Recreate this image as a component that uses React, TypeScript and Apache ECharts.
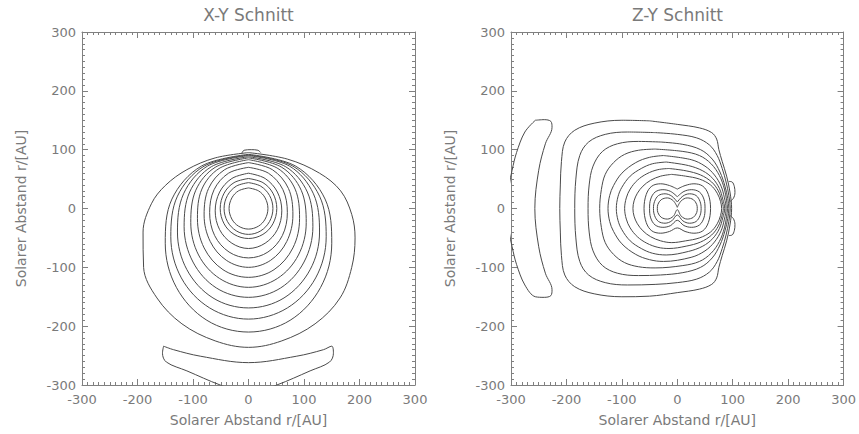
import React, { useEffect, useRef } from "react";
import * as echarts from "echarts";

// ---------- Axis ticks ----------
const axisMin = -300;
const axisMax = 300;
const axisInterval = 100;

// ---------- Titles / names ----------
const leftTitle = "X-Y Schnitt";
const rightTitle = "Z-Y Schnitt";
const axisName = "Solarer Abstand r/[AU]";

// ---------- Left panel (X-Y) contours ----------
const xyCircle1 = [[0,35],[18,30],[30,18],[35,0],[30,-18],[18,-30],[0,-35],[-18,-30],[-30,-18],[-35,0],[-30,18],[-18,30],[0,35]];
const xyCircle2 = [[0,44],[22,38],[38,22],[44,0],[38,-22],[22,-38],[0,-44],[-22,-38],[-38,-22],[-44,0],[-38,22],[-22,38],[0,44]];
const xyCircle3 = [[0,51],[26,44],[44,26],[51,0],[44,-26],[26,-44],[0,-51],[-26,-44],[-44,-26],[-51,0],[-44,26],[-26,44],[0,51]];
const xyRing1 = [[0,60],[30,51],[52,28],[60,-4],[52,-36],[30,-59],[0,-68],[-30,-59],[-52,-36],[-60,-4],[-52,28],[-30,51],[0,60]];
const xyRing2 = [[0,70],[36,60],[62,32],[70,-7],[61,-46],[35,-74],[0,-84],[-35,-74],[-61,-46],[-70,-7],[-62,32],[-36,60],[0,70]];
const xyRing3 = [[0,78],[43,66],[72,34],[80,-11],[69,-56],[40,-88],[0,-100],[-40,-88],[-69,-56],[-80,-11],[-72,34],[-43,66],[0,78]];
const xyRing4 = [[0,83],[53,68],[84,33],[92,-17],[80,-67],[46,-104],[0,-117],[-46,-104],[-80,-67],[-92,-17],[-84,33],[-53,68],[0,83]];
const xyRing5 = [[0,86],[60,70],[95,31],[104,-24],[90,-79],[52,-119],[0,-134],[-52,-119],[-90,-79],[-104,-24],[-95,31],[-60,70],[0,86]];
const xyRing6 = [[0,88],[67,71],[106,28],[116,-31],[100,-91],[58,-135],[0,-151],[-58,-135],[-100,-91],[-116,-31],[-106,28],[-67,71],[0,88]];
const xyRing7 = [[0,90],[74,72],[117,25],[128,-40],[111,-104],[64,-152],[0,-169],[-64,-152],[-111,-104],[-128,-40],[-117,25],[-74,72],[0,90]];
const xyRing8 = [[0,91],[80,72],[128,21],[140,-48],[121,-118],[70,-169],[0,-188],[-70,-169],[-121,-118],[-140,-48],[-128,21],[-80,72],[0,91]];
const xyRing9 = [[0,92],[85,72],[138,16],[150,-59],[130,-134],[75,-190],[0,-210],[-75,-190],[-130,-134],[-150,-59],[-138,16],[-85,72],[0,92]];
const xyOuter = [[0,95],[-60,86],[-111,66],[-150,39],[-175,8],[-190,-40],[-189,-100],[-165,-152],[-120,-196],[-60,-225],[0,-236],[60,-225],[120,-196],[165,-152],[186,-100],[192,-50],[186,-10],[166,30],[128,60],[70,84],[0,95]];
const xyCap = [[-12,94],[-8,99],[5,100],[17,99],[22,95]];
const xyCrescent = [[-153,-234],[-135,-240],[-87,-251],[0,-262],[87,-251],[135,-240],[150,-234],[153,-246],[146,-261],[111,-276],[51,-300],[0,-315],[-51,-300],[-111,-276],[-148,-261],[-155,-246],[-153,-234]];

// ---------- Right panel (Z-Y) contours ----------
const zyPeanut1 = [[0,2],[7,13],[18,18],[29,15],[35,7],[36,0],[35,-7],[29,-15],[18,-18],[7,-13],[0,-2],[-7,-13],[-18,-18],[-29,-15],[-35,-7],[-36,0],[-35,7],[-29,15],[-18,18],[-7,13],[0,2]];
const zyPeanut2 = [[0,11],[10,21],[22,25],[34,22],[41,12],[43,0],[41,-12],[34,-22],[22,-25],[10,-21],[0,-11],[-10,-21],[-22,-25],[-34,-22],[-41,-12],[-43,0],[-41,12],[-34,22],[-22,25],[-10,21],[0,11]];
const zyPeanut3 = [[0,20],[12,29],[26,32],[40,28],[48,16],[50,0],[48,-16],[40,-28],[26,-32],[12,-29],[0,-20],[-12,-29],[-26,-32],[-40,-28],[-48,-16],[-50,0],[-48,16],[-40,28],[-26,32],[-12,29],[0,20]];
const zyPeanut4 = [[0,33],[14,39],[30,42],[46,38],[56,24],[60,0],[56,-24],[46,-38],[30,-42],[14,-39],[0,-33],[-14,-39],[-30,-42],[-46,-38],[-56,-24],[-60,0],[-56,24],[-46,38],[-30,42],[-14,39],[0,33]];
const zyRing8 = [[-10,58],[-30,55],[-48,48],[-62,38],[-72,26],[-78,13],[-80,0],[-78,-13],[-72,-26],[-62,-38],[-48,-48],[-30,-55],[-10,-58],[15,-55],[40,-50],[60,-40],[72,-26],[78,-12],[80,0],[78,12],[72,26],[60,40],[40,50],[15,55],[-10,58]];
const zyRing7 = [[-15,68],[-35,66],[-55,59],[-72,48],[-85,33],[-92,18],[-95,0],[-92,-18],[-85,-33],[-72,-48],[-55,-59],[-35,-66],[-15,-68],[16,-64],[42,-57],[62,-45],[74,-30],[80,-14],[83,0],[80,14],[74,30],[62,45],[42,57],[16,64],[-15,68]];
const zyRing6 = [[-20,79],[-45,76],[-65,68],[-85,55],[-100,36],[-107,20],[-110,0],[-107,-20],[-100,-36],[-85,-55],[-65,-68],[-45,-76],[-20,-79],[20,-73],[46,-64],[64,-51],[76,-34],[82,-16],[85.5,0],[82,16],[76,34],[64,51],[46,64],[20,73],[-20,79]];
const zyRing5 = [[-25,90],[-50,87],[-75,78],[-100,60],[-115,39],[-122,22],[-125,0],[-122,-22],[-115,-39],[-100,-60],[-75,-78],[-50,-87],[-25,-90],[25,-83],[50,-72],[67,-57],[79,-38],[85,-18],[88,0],[85,18],[79,38],[67,57],[50,72],[25,83],[-25,90]];
const zyRing4 = [[-40,101],[-70,99],[-95,92],[-115,78],[-130,58],[-137,32],[-140,0],[-137,-32],[-130,-58],[-115,-78],[-95,-92],[-70,-99],[-40,-101],[10,-97],[40,-90],[61,-76],[76,-56],[85,-33],[89,-13],[90.5,0],[89,13],[85,33],[76,56],[61,76],[40,90],[10,97],[-40,101]];
const zyRing3 = [[-30,113],[-70,114],[-108,110],[-135,97],[-152,72],[-159,40],[-161,0],[-159,-40],[-152,-72],[-135,-97],[-108,-110],[-70,-114],[-30,-113],[10,-109],[42,-100],[63,-84],[77,-62],[86,-38],[91,-17],[93,0],[91,17],[86,38],[77,62],[63,84],[42,100],[10,109],[-30,113]];
const zyRing2 = [[-40,129],[-90,130],[-130,126],[-160,113],[-176,90],[-183,50],[-185,0],[-183,-50],[-176,-90],[-160,-113],[-130,-126],[-90,-130],[-40,-129],[0,-126],[35,-120],[58,-108],[72,-90],[81,-68],[88,-45],[93,-22],[95.5,0],[93,22],[88,45],[81,68],[72,90],[58,108],[35,120],[0,126],[-40,129]];
const zyRing1 = [[-50,149],[-100,150],[-150,145],[-185,133],[-203,113],[-209,80],[-211,40],[-212,0],[-211,-40],[-209,-80],[-203,-113],[-185,-133],[-150,-145],[-100,-150],[-50,-149],[0,-143],[40,-137],[62,-129],[71,-118],[75,-100],[81,-80],[89,-55],[95,-28],[98,0],[95,28],[89,55],[81,80],[75,100],[71,118],[62,129],[40,137],[0,143],[-50,149]];
const zyBumpUpper = [[93,46],[99,45],[103,37],[104,27],[101,17],[95,12]];
const zyBumpLower = [[95,-12],[101,-17],[104,-27],[103,-37],[99,-45],[93,-46]];
const zyCrescent = [[-256,150],[-240,151],[-228,148],[-226,138],[-238,110],[-250,65],[-257,0],[-250,-65],[-238,-110],[-226,-138],[-228,-148],[-240,-151],[-256,-150],[-275,-130],[-290,-95],[-298,-65],[-303,-40],[-305,0],[-303,40],[-298,65],[-290,95],[-275,130],[-256,150]];

const leftContours = [xyCircle1, xyCircle2, xyCircle3, xyRing1, xyRing2, xyRing3, xyRing4, xyRing5, xyRing6, xyRing7, xyRing8, xyRing9, xyOuter, xyCap, xyCrescent];
const rightContours = [zyPeanut1, zyPeanut2, zyPeanut3, zyPeanut4, zyRing8, zyRing7, zyRing6, zyRing5, zyRing4, zyRing3, zyRing2, zyRing1, zyBumpUpper, zyBumpLower, zyCrescent];

const FONT = "DejaVu Sans";
const AXIS_COLOR = "#808080";
const TEXT_COLOR = "#7a7a7a";
const LINE_COLOR = "#4a4a4a";

function makeAxis(gridIndex: number, position: string, withLabels: boolean, isX: boolean) {
  return {
    type: "value",
    gridIndex,
    position,
    min: axisMin,
    max: axisMax,
    interval: axisInterval,
    name: withLabels ? axisName : "",
    nameLocation: "middle",
    nameGap: isX ? 28 : 54,
    nameTextStyle: { fontSize: 14, color: TEXT_COLOR, fontFamily: FONT },
    axisLine: { show: true, onZero: false, lineStyle: { color: AXIS_COLOR, width: 1 } },
    axisTick: { show: true, inside: true, length: 6, lineStyle: { color: AXIS_COLOR, width: 1 } },
    minorTick: { show: true, splitNumber: 10, length: 3, lineStyle: { color: AXIS_COLOR, width: 1 } },
    splitLine: { show: false },
    minorSplitLine: { show: false },
    axisLabel: {
      show: withLabels,
      color: TEXT_COLOR,
      fontSize: 13,
      fontFamily: FONT,
      margin: isX ? 8 : 6,
      showMinLabel: true,
      showMaxLabel: true,
    },
  };
}

export default function App() {
  const ref = useRef<HTMLDivElement>(null);
  useEffect(() => {
    if (!ref.current) return;
    const chart = echarts.init(ref.current, undefined, { renderer: "svg" });
    const series: any[] = [];
    leftContours.forEach((c) =>
      series.push({
        type: "line",
        xAxisIndex: 0,
        yAxisIndex: 0,
        data: c,
        showSymbol: false,
        smooth: 0.35,
        clip: true,
        silent: true,
        lineStyle: { color: LINE_COLOR, width: 1 },
      })
    );
    rightContours.forEach((c) =>
      series.push({
        type: "line",
        xAxisIndex: 2,
        yAxisIndex: 2,
        data: c,
        showSymbol: false,
        smooth: 0.35,
        clip: true,
        silent: true,
        lineStyle: { color: LINE_COLOR, width: 1 },
      })
    );
    chart.setOption({
      animation: false,
      backgroundColor: "#ffffff",
      grid: [
        { left: 82, top: 32, width: 333, height: 353 },
        { left: 511, top: 32, width: 333, height: 353 },
      ],
      xAxis: [
        makeAxis(0, "bottom", true, true),
        makeAxis(0, "top", false, true),
        makeAxis(1, "bottom", true, true),
        makeAxis(1, "top", false, true),
      ],
      yAxis: [
        makeAxis(0, "left", true, false),
        makeAxis(0, "right", false, false),
        makeAxis(1, "left", true, false),
        makeAxis(1, "right", false, false),
      ],
      graphic: [
        {
          type: "text",
          x: 248.5,
          y: 15,
          style: { text: leftTitle, textAlign: "center", textVerticalAlign: "middle", fontSize: 17, fill: TEXT_COLOR, fontFamily: FONT },
        },
        {
          type: "text",
          x: 677.5,
          y: 15,
          style: { text: rightTitle, textAlign: "center", textVerticalAlign: "middle", fontSize: 17, fill: TEXT_COLOR, fontFamily: FONT },
        },
      ],
      series,
    });
    return () => chart.dispose();
  }, []);
  return (
    <div
      ref={ref}
      style={{ position: "fixed", left: 0, top: 0, width: 859, height: 434, background: "#fff" }}
    />
  );
}
